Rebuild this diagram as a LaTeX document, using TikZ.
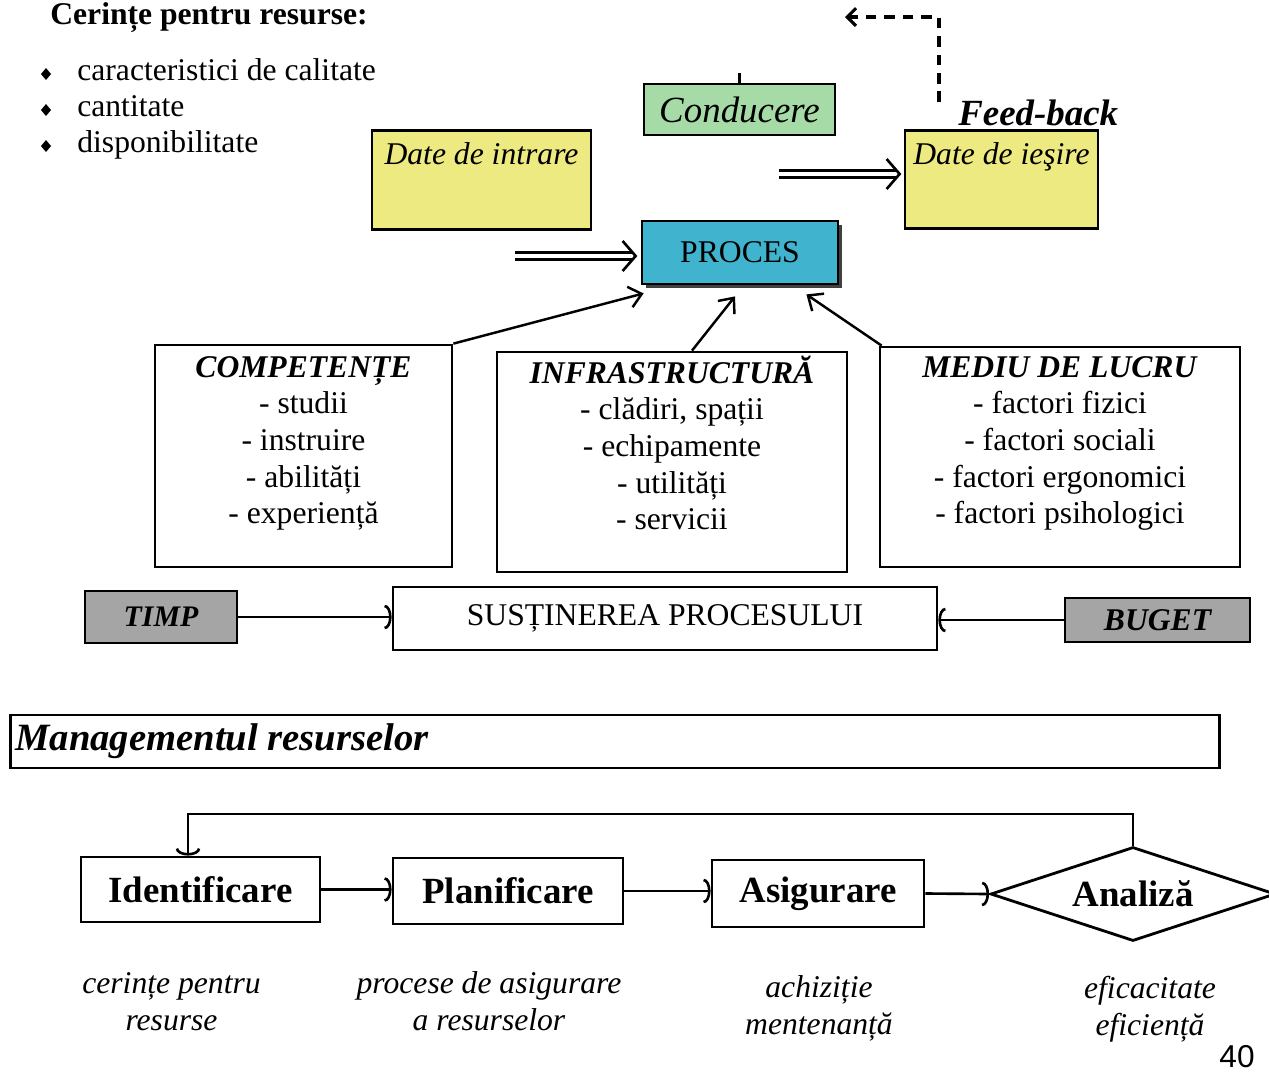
\documentclass[tikz,border=0pt]{standalone}
\usepackage{fontspec}
\setmainfont{Liberation Serif}
\newfontfamily\arialf{Liberation Sans}
\usetikzlibrary{arrows.meta,shapes.geometric,shadows,calc}
\definecolor{dyellow}{RGB}{238,234,130}
\definecolor{dgreen}{RGB}{166,218,166}
\definecolor{dcyan}{RGB}{64,180,206}
\definecolor{dgray}{RGB}{165,165,165}
\newcommand{\tst}{\rule{0pt}{0.95em}}
\begin{document}
\begin{tikzpicture}[x=0.02cm,y=-0.02cm,
  bx/.style={draw=black, line width=1.6pt, inner sep=0pt},
  txt/.style={font=\fontsize{18}{20.8}\selectfont},
  btxt/.style={font=\fontsize{21}{24}\selectfont\bfseries},
  itxt/.style={font=\fontsize{18}{21}\selectfont\itshape, align=center, anchor=north, inner sep=0pt},
  ar/.style={line width=1.4pt, -{Straight Barb[length=7pt,width=12pt]}},
  sar/.style={line width=1.5pt, -{Arc Barb[length=4pt,width=14pt]}},
  dbl/.style={double, double distance=2.6pt, line width=1.3pt},
  chev/.style={line width=1.5pt, line join=miter},
]
\useasboundingbox (0,0) rectangle (1269,1073);
\clip (0,0) rectangle (1269,1073);

% title and bullet list
\node[anchor=base west, inner sep=0pt, font=\fontsize{18}{20}\selectfont\bfseries] (title) at (50,24) {Cerințe pentru resurse:};
\fill (46,68) -- (51,74) -- (46,80) -- (41,74) -- cycle;
\fill (46,104) -- (51,110) -- (46,116) -- (41,110) -- cycle;
\fill (46,140) -- (51,146) -- (46,152) -- (41,146) -- cycle;
\node[txt, anchor=base west, inner sep=0pt] (b1) at (77,80) {caracteristici de calitate};
\node[txt, anchor=base west, inner sep=0pt] (b2) at (77,116) {cantitate};
\node[txt, anchor=base west, inner sep=0pt] (b3) at (77,152) {disponibilitate};

% top boxes
\node[bx, fill=dgreen, minimum width=3.82cm, minimum height=1.02cm,
      font=\fontsize{21}{24}\selectfont\itshape] (cond) at (739.5,109.5) {Conducere};
\draw[line width=1.2pt] (cond.north) -- ++(0,-10);

\node[bx, fill=dyellow, anchor=north, minimum width=4.38cm, text height=0.68cm, text depth=1.30cm,
      font=\fontsize{18}{20}\selectfont\itshape] (din) at (481.5,129) {Date de intrare};
\node[bx, fill=dyellow, anchor=north, minimum width=3.86cm, text height=0.68cm, text depth=1.28cm,
      font=\fontsize{18}{20}\selectfont\itshape] (dout) at (1001.5,129) {Date de ieşire};

\node[bx, fill=dcyan, minimum width=3.92cm, minimum height=1.26cm, txt,
      drop shadow={shadow xshift=0.08cm, shadow yshift=-0.08cm, fill=black!75, opacity=1}] (proc) at (740,252.5) {PROCES};

\coordinate (pin) at (515,256);
\coordinate (pinE) at ($(pin -| proc.west)+(-5,0)$);
\draw[dbl] (pin) -- ($(pinE)+(-4,0)$);
\draw[chev] ($(pinE)+(-13,-15)$) -- (pinE) -- ($(pinE)+(-13,15)$);
\coordinate (pout) at (779,174);
\coordinate (poutE) at ($(pout -| dout.west)+(-4,0)$);
\draw[dbl] (pout) -- ($(poutE)+(-4,0)$);
\draw[chev] ($(poutE)+(-13,-15)$) -- (poutE) -- ($(poutE)+(-13,15)$);

\node[anchor=base west, inner sep=0pt, font=\fontsize{21}{24}\selectfont\bfseries\itshape] (fb) at (958,125) {Feed-back};
\coordinate (fb1) at (939,102);
\coordinate (fb2) at (939,17);
\coordinate (fb3) at (845,17);
\draw[line width=1.8pt, dash pattern=on 6pt off 4.5pt, -{Straight Barb[length=5pt,width=10pt]}] (fb1) -- (fb2) -- (fb3);

% resource boxes
\node[bx, minimum width=5.94cm, minimum height=4.44cm] (comp) at (303.5,456) {};
\node[txt, align=center, anchor=north, inner sep=0pt] (compt) at (303.5,347)
  {\tst\textbf{\textit{COMPETENȚE}}\\- studii\\- instruire\\- abilități\\- experiență};
\node[bx, minimum width=7.0cm, minimum height=4.4cm] (inf) at (672,462) {};
\node[txt, align=center, anchor=north, inner sep=0pt] (inft) at (672,353)
  {\tst\textbf{\textit{INFRASTRUCTURĂ}}\\- clădiri, spații\\- echipamente\\- utilități\\- servicii};
\node[bx, minimum width=7.2cm, minimum height=4.4cm] (med) at (1060,457) {};
\node[txt, align=center, anchor=north, inner sep=0pt] (medt) at (1060,347)
  {\tst\textbf{\textit{MEDIU DE LUCRU}}\\- factori fizici\\- factori sociali\\- factori ergonomici\\- factori psihologici};

\draw[ar] (comp.north east) -- ($(proc.south west)+(3,8)$);
\draw[ar] ($(inf.north)+(20,0)$) -- ($(proc.south)+(-5,11)$);
\draw[ar] ($(med.north west)+(3,0)$) -- ($(proc.south east)+(-33,9)$);

% support row
\node[bx, fill=dgray, minimum width=3.04cm, minimum height=1.04cm,
      font=\fontsize{17}{20}\selectfont\bfseries\itshape] (timp) at (161,617) {TIMP};
\node[bx, minimum width=10.88cm, minimum height=1.26cm, txt] (sust) at (665,618.5) {SUSȚINEREA PROCESULUI};
\node[bx, fill=dgray, minimum width=3.7cm, minimum height=0.88cm,
      font=\fontsize{18}{20}\selectfont\bfseries\itshape] (bug) at (1157.5,620) {BUGET};
\draw[sar] (timp.east) -- (timp.east -| sust.west);
\draw[sar] (bug.west) -- (bug.west -| sust.east);

% management
\node[bx, minimum width=24.2cm, minimum height=1.06cm] (mgmt) at (615,741.5) {};
\node[anchor=base west, inner sep=0pt, font=\fontsize{22}{24}\selectfont\bfseries\itshape] (mgmtt) at (15,750) {Managementul resurselor};

% bottom flow
\node[bx, btxt, minimum width=4.78cm, minimum height=1.3cm] (ident) at (200.5,889.5) {Identificare};
\node[bx, btxt, minimum width=4.6cm, minimum height=1.32cm] (plan) at (508,891) {Planificare};
\node[bx, btxt, minimum width=4.24cm, minimum height=1.34cm] (asig) at (818,893.5) {Asigurare};
\node[bx, btxt, diamond, aspect=3, minimum width=5.7cm, minimum height=1.88cm] (anal) at (1133,894) {Analiză};

\draw[sar] (ident.east) -- (ident.east -| plan.west);
\draw[sar] (plan.east) -- (plan.east -| asig.west);
\draw[sar] (asig.east) -- (anal.west);
\coordinate (lp) at (188,814);
\draw[sar] (anal.north) |- (lp) -- (lp |- ident.north);

\node[itxt] (l1) at (171.5,963) {\tst cerințe pentru\\resurse};
\node[itxt] (l2) at (489,963) {\tst procese de asigurare\\a resurselor};
\node[itxt] (l3) at (819,967) {\tst achiziție\\mentenanță};
\node[itxt] (l4) at (1150,968) {\tst eficacitate\\eficiență};
\node[anchor=base, inner sep=0pt, font=\arialf\fontsize{18}{20}\selectfont] (pg) at (1237,1067) {40};
\end{tikzpicture}
\end{document}
